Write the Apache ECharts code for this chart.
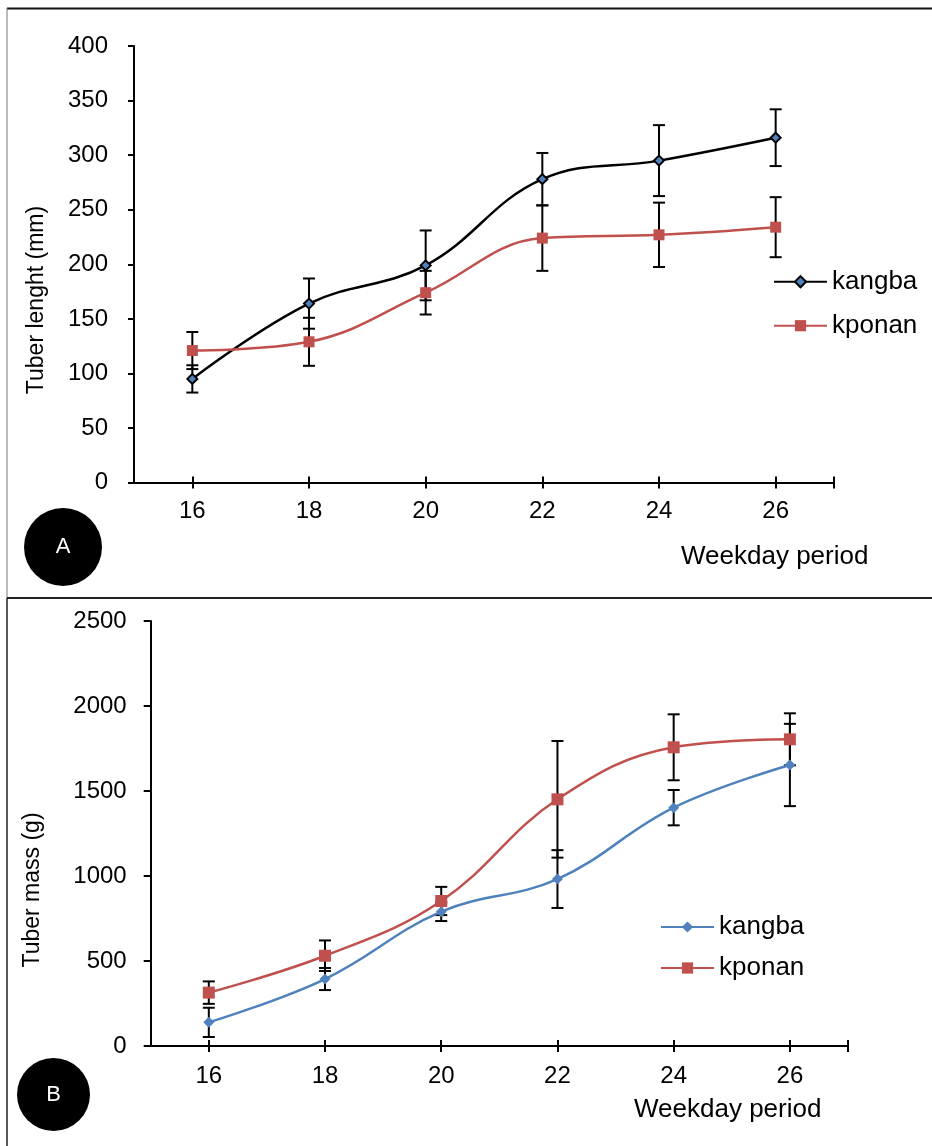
<!DOCTYPE html>
<html>
<head>
<meta charset="utf-8">
<script src="https://cdn.jsdelivr.net/npm/echarts@6/dist/echarts.min.js"></script>
<style>
html,body{margin:0;padding:0;background:#fff;}
#chart{width:932px;height:1146px;}
</style>
</head>
<body>
<div id="chart"></div>
<script>
// ---- data ----
const weeks = [16, 18, 20, 22, 24, 26];
const xTickValues = [16, 18, 20, 22, 24, 26];
const lenKangba = [95, 164, 199, 278, 295, 316];
const lenKangbaErr = [12.5, 23, 32, 24, 32.5, 26];
const lenKponan = [121, 129, 174, 224, 227, 234];
const lenKponanErr = [17, 22, 20, 30, 29.5, 27.5];
const massKangba = [139, 394, 790, 982, 1402, 1653];
const massKangbaErr = [86, 65, 55, 170, 104, 242];
const massKponan = [314, 531, 853, 1451, 1757, 1804];
const massKponanErr = [66, 90, 83, 343, 194, 153];
const lenTicks = {min: 0, max: 400, interval: 50};
const massTicks = {min: 0, max: 2500, interval: 500};

const FONT = 'Liberation Sans, Arial, sans-serif';
const BLUE = '#4F81BD', RED = '#C0504D';

function pairs(ys) { return weeks.map((w, i) => [w, ys[i]]); }
function errData(ys, es) { return weeks.map((w, i) => [w, ys[i] - es[i], ys[i] + es[i]]); }

function errSeries(name, ys, es, xi, yi) {
  return {
    name: name, type: 'custom', xAxisIndex: xi, yAxisIndex: yi, z: 1, silent: true,
    data: errData(ys, es),
    encode: {x: 0, y: [1, 2]},
    renderItem: function (params, api) {
      const x = api.value(0);
      const lo = api.coord([x, api.value(1)]);
      const hi = api.coord([x, api.value(2)]);
      const hw = 6;
      const st = {stroke: '#000', lineWidth: 2};
      return {
        type: 'group',
        children: [
          {type: 'line', shape: {x1: lo[0], y1: lo[1], x2: hi[0], y2: hi[1]}, style: st},
          {type: 'line', shape: {x1: lo[0] - hw, y1: lo[1], x2: lo[0] + hw, y2: lo[1]}, style: st},
          {type: 'line', shape: {x1: hi[0] - hw, y1: hi[1], x2: hi[0] + hw, y2: hi[1]}, style: st}
        ]
      };
    }
  };
}

function xAxisPair(gridIndex) {
  const base = {
    type: 'value', gridIndex: gridIndex, min: 15, max: 27, position: 'bottom',
    splitLine: {show: false}
  };
  return [
    Object.assign({}, base, {
      axisLine: {show: true, onZero: false, lineStyle: {color: '#000', width: 2}},
      axisTick: {show: true, inside: false, length: 6, customValues: [16, 18, 20, 22, 24, 26, 27], lineStyle: {color: '#000', width: 2}},
      axisLabel: {show: true, customValues: xTickValues, color: '#000', fontSize: 24, fontFamily: FONT, margin: gridIndex === 0 ? 17 : 18}
    }),
    Object.assign({}, base, {
      axisLine: {show: false, onZero: false},
      axisTick: {show: true, inside: true, length: 6, customValues: [16, 18, 20, 22, 24, 26, 27], lineStyle: {color: '#000', width: 2}},
      axisLabel: {show: false}
    })
  ];
}

const chart = echarts.init(document.getElementById('chart'), null, {renderer: 'canvas'});

const option = {
  backgroundColor: '#fff',
  animation: false,
  grid: [
    {left: 134, top: 46, width: 700, height: 436.6},
    {left: 150.7, top: 621, width: 697.3, height: 425}
  ],
  xAxis: [].concat(xAxisPair(0), xAxisPair(1)),
  yAxis: [
    {
      type: 'value', gridIndex: 0, min: lenTicks.min, max: lenTicks.max, interval: lenTicks.interval,
      axisLine: {show: true, lineStyle: {color: '#000', width: 2}},
      axisTick: {show: true, length: 6, lineStyle: {color: '#000', width: 2}},
      axisLabel: {color: '#000', fontSize: 24, fontFamily: FONT, margin: 26, formatter: v => String(v)},
      splitLine: {show: false}
    },
    {
      type: 'value', gridIndex: 1, min: massTicks.min, max: massTicks.max, interval: massTicks.interval,
      axisLine: {show: true, lineStyle: {color: '#000', width: 2}},
      axisTick: {show: true, length: 7, lineStyle: {color: '#000', width: 2}},
      axisLabel: {color: '#000', fontSize: 24, fontFamily: FONT, margin: 24, formatter: v => String(v)},
      splitLine: {show: false}
    }
  ],
  legend: [
    {
      orient: 'vertical', left: 773, top: 266.7, padding: 0, itemWidth: 53, itemHeight: 14, itemGap: 14,
      data: ['A-kangba', 'A-kponan'],
      formatter: n => n.slice(2),
      textStyle: {color: '#000', fontSize: 26, fontFamily: FONT, lineHeight: 30}
    },
    {
      orient: 'vertical', left: 660, top: 912, padding: 0, itemWidth: 53, itemHeight: 14, itemGap: 11,
      data: ['B-kangba', 'B-kponan'],
      formatter: n => n.slice(2),
      textStyle: {color: '#000', fontSize: 26, fontFamily: FONT, lineHeight: 30}
    }
  ],
  series: [
    errSeries('errA1', lenKangba, lenKangbaErr, 0, 0),
    errSeries('errA2', lenKponan, lenKponanErr, 0, 0),
    {
      name: 'A-kangba', type: 'line', xAxisIndex: 0, yAxisIndex: 0, z: 3,
      data: pairs(lenKangba), smooth: 0.4,
      symbol: 'diamond', symbolSize: 10,
      lineStyle: {color: '#000', width: 2.5},
      itemStyle: {color: BLUE, borderColor: '#000', borderWidth: 2}
    },
    {
      name: 'A-kponan', type: 'line', xAxisIndex: 0, yAxisIndex: 0, z: 3,
      data: pairs(lenKponan), smooth: 0.4,
      symbol: 'rect', symbolSize: 11,
      lineStyle: {color: RED, width: 2.5},
      itemStyle: {color: RED}
    },
    errSeries('errB1', massKangba, massKangbaErr, 2, 1),
    errSeries('errB2', massKponan, massKponanErr, 2, 1),
    {
      name: 'B-kangba', type: 'line', xAxisIndex: 2, yAxisIndex: 1, z: 3,
      data: pairs(massKangba), smooth: 0.4,
      symbol: 'diamond', symbolSize: 11,
      lineStyle: {color: BLUE, width: 2.5},
      itemStyle: {color: BLUE}
    },
    {
      name: 'B-kponan', type: 'line', xAxisIndex: 2, yAxisIndex: 1, z: 3,
      data: pairs(massKponan), smooth: 0.4,
      symbol: 'rect', symbolSize: 12,
      lineStyle: {color: RED, width: 2.5},
      itemStyle: {color: RED}
    }
  ],
  graphic: [
    {type: 'line', shape: {x1: 7, y1: 8.5, x2: 932, y2: 8.5}, style: {stroke: '#111', lineWidth: 2}},
    {type: 'line', shape: {x1: 7, y1: 8, x2: 7, y2: 598}, style: {stroke: '#777', lineWidth: 1}},
    {type: 'line', shape: {x1: 7, y1: 598, x2: 932, y2: 598}, style: {stroke: '#222', lineWidth: 2}},
    {type: 'line', shape: {x1: 7, y1: 598, x2: 7, y2: 1146}, style: {stroke: '#222', lineWidth: 1.5}},
    {type: 'circle', shape: {cx: 63, cy: 547, r: 39}, style: {fill: '#000'}},
    {type: 'text', x: 63, y: 547, style: {text: 'A', fill: '#fff', fontSize: 22, fontFamily: FONT, align: 'center', verticalAlign: 'middle'}},
    {type: 'circle', shape: {cx: 53.5, cy: 1094.5, r: 36.5}, style: {fill: '#000'}},
    {type: 'text', x: 53.5, y: 1094.5, style: {text: 'B', fill: '#fff', fontSize: 22, fontFamily: FONT, align: 'center', verticalAlign: 'middle'}},
    {type: 'text', x: 681, y: 557, style: {text: 'Weekday period', fill: '#000', fontSize: 26, fontFamily: FONT, align: 'left', verticalAlign: 'middle'}},
    {type: 'text', x: 634, y: 1110, style: {text: 'Weekday period', fill: '#000', fontSize: 26, fontFamily: FONT, align: 'left', verticalAlign: 'middle'}},
    {type: 'text', x: 37, y: 300, rotation: Math.PI / 2, style: {text: 'Tuber lenght (mm)', fill: '#000', fontSize: 23, fontFamily: FONT, align: 'center', verticalAlign: 'middle'}},
    {type: 'text', x: 33, y: 890, rotation: Math.PI / 2, style: {text: 'Tuber mass (g)', fill: '#000', fontSize: 23, fontFamily: FONT, align: 'center', verticalAlign: 'middle'}}
  ]
};
chart.setOption(option);
</script>
</body>
</html>
